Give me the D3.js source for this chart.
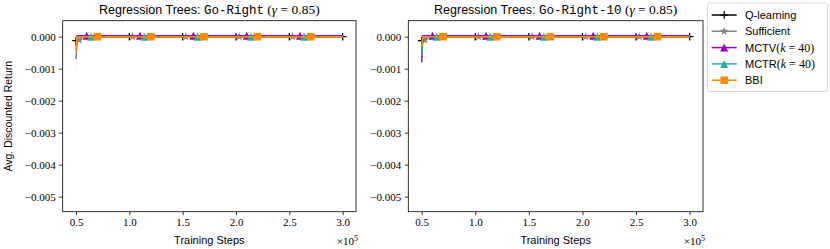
<!DOCTYPE html>
<meta charset="utf-8">
<head>
<style>
  body { margin: 0; background: #fff; }
  .tick text { font-family: "Liberation Serif", "DejaVu Serif", serif; font-size: 11px; }
</style>
</head>
<body>
<script src="https://d3js.org/d3.v7.min.js"></script>
<script>
  // training steps (x) for each method, marker steps, and values per panel
  var qSteps = [50000, 53000, 55000, 100000, 150000, 200000, 250000, 300000];
  var qMarks = [50000, 100000, 150000, 200000, 250000, 300000];
  var qLeft = [-0.00012, -0.0001, 0, 0, 0, 0, 0, 0];
  var qLeftSd = [0.00004, 0, 0, 0, 0, 0, 0, 0];
  var qRight = [-0.00012, -0.0001, 0, 0, 0, 0, 0, 0];
  var qRightSd = [0.00004, 0, 0, 0, 0, 0, 0, 0];

  var suffSteps = [50000, 51000, 53000, 55000, 103000, 153000, 203000, 253000, 300000];
  var suffMarks = [53000, 103000, 153000, 203000, 253000];
  var suffLeft = [-0.0007, -0.00012, -0.0001, 0, 0, 0, 0, 0, 0];
  var suffLeftSd = [0.0004, 0.00004, 0, 0, 0, 0, 0, 0, 0];
  var suffRight = [-0.0004, -0.00012, -0.0001, 0, 0, 0, 0, 0, 0];
  var suffRightSd = [0.0002, 0.00004, 0, 0, 0, 0, 0, 0, 0];

  var mctvSteps = [50000, 51000, 60000, 110000, 160000, 210000, 260000, 300000];
  var mctvMarks = [60000, 110000, 160000, 210000, 260000];
  var mctvLeft = [-0.0003, 0.00003, 0.00003, 0.00003, 0.00003, 0.00003, 0.00003, 0.00003];
  var mctvLeftSd = [0.0002, 0, 0, 0, 0, 0, 0, 0];
  var mctvRight = [-0.0008, 0.00003, 0.00003, 0.00003, 0.00003, 0.00003, 0.00003, 0.00003];
  var mctvRightSd = [0.0003, 0, 0, 0, 0, 0, 0, 0];

  var mctrSteps = [50000, 51000, 64000, 114000, 164000, 214000, 264000, 300000];
  var mctrMarks = [64000, 114000, 164000, 214000, 264000];
  var mctrLeft = [-0.0004, 0, 0, 0, 0, 0, 0, 0];
  var mctrLeftSd = [0.0002, 0, 0, 0, 0, 0, 0, 0];
  var mctrRight = [-0.0006, 0, 0, 0, 0, 0, 0, 0];
  var mctrRightSd = [0.0003, 0, 0, 0, 0, 0, 0, 0];

  var bbiSteps = [50000, 51000, 70000, 120000, 170000, 220000, 270000, 300000];
  var bbiMarks = [70000, 120000, 170000, 220000, 270000];
  var bbiLeft = [-0.00045, 0, 0, 0, 0, 0, 0, 0];
  var bbiLeftSd = [0.00015, 0.00003, 0.00003, 0.00003, 0.00003, 0.00003, 0.00003, 0.00003];
  var bbiRight = [-0.0003, 0, 0, 0, 0, 0, 0, 0];
  var bbiRightSd = [0.00015, 0.00003, 0.00003, 0.00003, 0.00003, 0.00003, 0.00003, 0.00003];

  var xTicks = [50000, 100000, 150000, 200000, 250000, 300000];
  var yTicks = [0, -0.001, -0.002, -0.003, -0.004, -0.005];

  var series = [
    { name: "Q-learning", color: "#000000", marker: "plus", steps: qSteps, marks: qMarks, vals: [qLeft, qRight], sd: [qLeftSd, qRightSd] },
    { name: "Sufficient", color: "#808080", marker: "star", steps: suffSteps, marks: suffMarks, vals: [suffLeft, suffRight], sd: [suffLeftSd, suffRightSd] },
    { name: "MCTV", k: true, color: "#9400d3", marker: "tri", steps: mctvSteps, marks: mctvMarks, vals: [mctvLeft, mctvRight], sd: [mctvLeftSd, mctvRightSd] },
    { name: "MCTR", k: true, color: "#20b2aa", marker: "tri", steps: mctrSteps, marks: mctrMarks, vals: [mctrLeft, mctrRight], sd: [mctrLeftSd, mctrRightSd] },
    { name: "BBI", color: "#ff8c00", marker: "square", steps: bbiSteps, marks: bbiMarks, vals: [bbiLeft, bbiRight], sd: [bbiLeftSd, bbiRightSd] }
  ];

  var panels = [
    { env: "Go-Right", left: 62.7, right: 356 },
    { env: "Go-Right-10", left: 408.3, right: 703 }
  ];
  var plotTop = 20.7, plotBottom = 211.7;

  var sans = "'Liberation Sans', 'DejaVu Sans', sans-serif",
    serif = "'Liberation Serif', 'DejaVu Serif', serif",
    mono = "'Liberation Mono', 'DejaVu Sans Mono', monospace";

  var svg = d3.select("body").append("svg")
    .attr("width", 830)
    .attr("height", 249);

  function drawMarker(g, type, color, x, y) {
    if (type === "plus") {
      g.append("path")
        .attr("d", "M" + (x - 3.8) + "," + y + "H" + (x + 3.8) + "M" + x + "," + (y - 3.8) + "V" + (y + 3.8))
        .attr("stroke", color).attr("stroke-width", 1.3).attr("fill", "none");
    } else if (type === "star") {
      g.append("path")
        .attr("d", d3.symbol().type(d3.symbolStar).size(24)())
        .attr("transform", "translate(" + x + "," + y + ")")
        .attr("fill", color);
    } else if (type === "tri") {
      g.append("path")
        .attr("d", "M" + x + "," + (y - 4) + "L" + (x + 4) + "," + (y + 4) + "L" + (x - 4) + "," + (y + 4) + "Z")
        .attr("fill", color);
    } else {
      g.append("rect")
        .attr("x", x - 3.8).attr("y", y - 3.8)
        .attr("width", 7.6).attr("height", 7.6)
        .attr("fill", color);
    }
  }

  panels.forEach(function (p, pi) {
    var x = d3.scaleLinear().domain([37500, 312500]).range([p.left, p.right]);
    var y = d3.scaleLinear().domain([-0.00547, 0.0005]).range([plotBottom, plotTop]);

    var g = svg.append("g");

    g.append("clipPath").attr("id", "clip" + pi)
      .append("rect")
      .attr("x", p.left).attr("y", plotTop)
      .attr("width", p.right - p.left).attr("height", plotBottom - plotTop);

    var plot = g.append("g").attr("clip-path", "url(#clip" + pi + ")");

    series.forEach(function (s) {
      var vals = s.vals[pi], sd = s.sd[pi];
      var pts = s.steps.map(function (st, i) { return { x: st, y: vals[i], sd: sd[i] }; });

      var area = d3.area()
        .x(function (d) { return x(d.x); })
        .y0(function (d) { return y(d.y - d.sd); })
        .y1(function (d) { return y(d.y + d.sd); });
      plot.append("path")
        .datum(pts)
        .attr("d", area)
        .attr("fill", s.color)
        .attr("opacity", 0.3);

      var line = d3.line()
        .x(function (d) { return x(d.x); })
        .y(function (d) { return y(d.y); });
      plot.append("path")
        .datum(pts)
        .attr("d", line)
        .attr("fill", "none")
        .attr("stroke", s.color)
        .attr("stroke-width", 1.5);

      s.marks.forEach(function (m) {
        var i = s.steps.indexOf(m);
        drawMarker(plot, s.marker, s.color, x(m), y(vals[i]));
      });
    });

    // axes
    g.append("g")
      .attr("transform", "translate(0," + plotBottom + ")")
      .call(d3.axisBottom(x).tickValues(xTicks).tickSize(3.5).tickPadding(3.5)
        .tickFormat(function (d) { return d3.format(".1f")(d / 1e5); }))
      .call(function (a) { a.select(".domain").remove(); });

    g.append("g")
      .attr("transform", "translate(" + p.left + ",0)")
      .call(d3.axisLeft(y).tickValues(yTicks).tickSize(3.5).tickPadding(3.5)
        .tickFormat(d3.format(".3f")))
      .call(function (a) { a.select(".domain").remove(); });

    g.selectAll(".tick line").attr("stroke", "#000").attr("stroke-width", 0.8);
    g.selectAll(".tick text").attr("fill", "#000");

    g.append("rect")
      .attr("x", p.left).attr("y", plotTop)
      .attr("width", p.right - p.left).attr("height", plotBottom - plotTop)
      .attr("fill", "none").attr("stroke", "#000").attr("stroke-width", 0.8);

    // title
    var cx = (p.left + p.right) / 2;
    var t = g.append("text")
      .attr("x", cx).attr("y", 14)
      .attr("text-anchor", "middle")
      .attr("font-size", 12.5);
    t.append("tspan").attr("font-family", sans).text("Regression Trees: ");
    t.append("tspan").attr("font-family", mono).text(p.env);
    t.append("tspan").attr("font-family", serif).attr("font-size", 13.5).text(" (");
    t.append("tspan").attr("font-family", serif).attr("font-size", 13.5).attr("font-style", "italic").text("γ");
    t.append("tspan").attr("font-family", serif).attr("font-size", 13.5).text(" = 0.85)");

    g.append("text")
      .attr("x", cx).attr("y", 244)
      .attr("text-anchor", "middle")
      .attr("font-family", sans).attr("font-size", 11)
      .text("Training Steps");

    var e = g.append("text")
      .attr("x", p.right + 2).attr("y", 245)
      .attr("text-anchor", "end")
      .attr("font-family", serif).attr("font-size", 11);
    e.append("tspan").text("×10");
    e.append("tspan").attr("font-size", 8).attr("dy", -4.5).text("5");
  });

  svg.append("text")
    .attr("transform", "translate(12," + ((plotTop + plotBottom) / 2) + ") rotate(-90)")
    .attr("text-anchor", "middle")
    .attr("font-family", sans).attr("font-size", 10.5)
    .text("Avg. Discounted Return");

  // legend
  var lg = svg.append("g");
  lg.append("rect")
    .attr("x", 707.5).attr("y", 3)
    .attr("width", 120).attr("height", 88.5)
    .attr("rx", 2)
    .attr("fill", "#fff").attr("stroke", "#d0d0d0").attr("stroke-width", 0.8);

  series.forEach(function (s, i) {
    var ly = 15 + i * 16.3;
    lg.append("line")
      .attr("x1", 711.7).attr("x2", 736.7)
      .attr("y1", ly).attr("y2", ly)
      .attr("stroke", s.color).attr("stroke-width", 1.5);
    drawMarker(lg, s.marker, s.color, 724.2, ly);
    var tx = lg.append("text")
      .attr("x", 745).attr("y", ly + 4)
      .attr("font-size", 11);
    tx.append("tspan").attr("font-family", sans).text(s.name);
    if (s.k) {
      tx.append("tspan").attr("font-family", serif).attr("font-size", 12).text("(");
      tx.append("tspan").attr("font-family", serif).attr("font-size", 12).attr("font-style", "italic").text("k");
      tx.append("tspan").attr("font-family", serif).attr("font-size", 12).text(" = 40)");
    }
  });
</script>
</body>
</html>
